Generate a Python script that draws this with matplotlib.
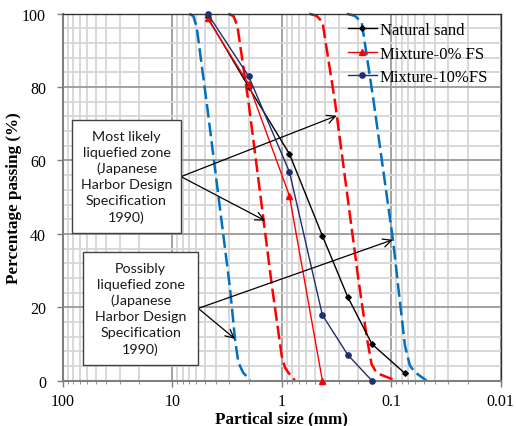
import matplotlib
matplotlib.use("Agg")
import matplotlib.pyplot as plt
from matplotlib.patches import Rectangle
from matplotlib.ticker import FixedLocator, FixedFormatter, MultipleLocator

# ---------------- data ----------------
sieve_sizes = [4.75, 2.0, 0.85, 0.425, 0.25, 0.15, 0.075]
natural_sand = [99, 80, 61.8, 39.5, 22.9, 10, 2]
mix0_sizes = [4.75, 2.0, 0.85, 0.425]
mix0 = [98.7, 80.8, 50.4, 0]
mix10_sizes = [4.75, 2.0, 0.85, 0.425, 0.25, 0.15]
mix10 = [100, 82.9, 56.9, 17.9, 7.1, 0]

# zone boundaries
possible_left_x = [6.98, 6.4, 5.97, 4.76, 2.97, 2.67, 2.49, 2.25, 2.02, 1.95]
possible_left_y = [100, 99.3, 96.3, 74, 25.4, 11.4, 5, 2.2, 0.7, 0]
likely_left_x = [3.07, 2.75, 2.54, 1.99, 1.23, 1.0, 0.933, 0.86, 0.793, 0.76]
likely_left_y = [100, 99.3, 96.7, 75, 26, 6.8, 3.6, 2.0, 1.1, 0]
likely_right_x = [0.560, 0.48, 0.424, 0.326, 0.199, 0.167, 0.151, 0.14, 0.128, 0.0904]
likely_right_y = [100, 99.4, 97.7, 76, 27.5, 11.8, 4.5, 2.8, 1.8, 0]
possible_right_x = [0.255, 0.215, 0.186, 0.1457, 0.0957, 0.0861, 0.0748, 0.0674, 0.0606, 0.0474]
possible_right_y = [100, 99.4, 97.7, 76.8, 37.7, 25.4, 9.5, 4.1, 2.3, 0]

x_ticks = [100, 10, 1, 0.1, 0.01]
x_tick_labels = ["100", "10", "1", "0.1", "0.01"]
y_ticks = [0, 20, 40, 60, 80, 100]

labels = ["Natural sand", "Mixture-0% FS", "Mixture-10%FS"]
box1_text = "Most likely\nliquefied zone\n(Japanese\nHarbor Design\nSpecification\n1990)"
box2_text = "Possibly\nliquefied zone\n(Japanese\nHarbor Design\nSpecification\n1990)"

# ---------------- figure ----------------
fig = plt.figure(figsize=(5.16, 4.27), dpi=100)
ax = fig.add_axes([0.1215, 0.1061, 0.8488, 0.8595])
ax.set_xscale("log")
ax.set_xlim(100, 0.01)
ax.set_ylim(0, 100)

serif = "Liberation Serif"

# grid
minor_x = [m * 10.0 ** e for e in range(-2, 2) for m in range(2, 10)]
ax.xaxis.set_major_locator(FixedLocator(x_ticks))
ax.xaxis.set_major_formatter(FixedFormatter(x_tick_labels))
ax.xaxis.set_minor_locator(FixedLocator(minor_x))
ax.yaxis.set_major_locator(FixedLocator(y_ticks))
ax.yaxis.set_minor_locator(MultipleLocator(4))
ax.grid(which="minor", color="#d6d6d6", lw=1.3, zorder=0)
ax.grid(which="major", color="#9a9a9a", lw=1.3, zorder=0)
ax.set_axisbelow(True)

for s in ax.spines.values():
    s.set_color("#333333")
    s.set_linewidth(1.0)
for s in ["left", "bottom"]:
    ax.spines[s].set_color("#7f7f7f")
    ax.spines[s].set_linewidth(1.5)

ax.tick_params(axis="both", which="major", direction="out", length=4, width=1,
               color="#7f7f7f", labelsize=11.5, pad=5)
ax.tick_params(axis="x", which="minor", direction="out", length=2.5, color="#7f7f7f")
ax.tick_params(axis="y", which="minor", length=0)
ax.tick_params(axis="y", which="major", pad=8)
for lab in ax.get_xticklabels() + ax.get_yticklabels():
    lab.set_fontfamily(serif)

# zone boundaries
dash = (0, (5.5, 2))
for xs, ys, c in [(possible_left_x, possible_left_y, "#0070C0"),
                  (possible_right_x, possible_right_y, "#0070C0"),
                  (likely_left_x, likely_left_y, "#FF0000"),
                  (likely_right_x, likely_right_y, "#FF0000")]:
    ax.plot(xs, ys, color=c, lw=1.8, ls=dash, zorder=2, clip_on=False)

# data series
l1, = ax.plot(sieve_sizes, natural_sand, color="black", lw=1.0, marker="D", ms=2.8,
              zorder=4, clip_on=False, label=labels[0])
l2, = ax.plot(mix0_sizes, mix0, color="#FF0000", lw=1.0, marker="^", ms=3.8,
              zorder=4, clip_on=False, label=labels[1])
l3, = ax.plot(mix10_sizes, mix10, color="#1F2F6E", lw=1.0, marker="o", ms=3.8,
              zorder=5, clip_on=False, label=labels[2])

leg = ax.legend(handles=[l1, l2, l3], loc="upper left", bbox_to_anchor=(0.636, 0.995),
                borderaxespad=0, frameon=False, handlelength=1.75, handletextpad=0.15,
                labelspacing=0.45, prop={"family": serif, "size": 12})

# boxes
box_font = "Lato"
for (x0, y0, x1, y1), txt in [((0.0212, 0.4025, 0.270, 0.7112), box1_text),
                              ((0.0463, 0.0428, 0.3096, 0.3515), box2_text)]:
    ax.add_patch(Rectangle((x0, y0), x1 - x0, y1 - y0, transform=ax.transAxes,
                           facecolor="white", edgecolor="#404040", lw=1.0, zorder=6))
    ax.text((x0 + x1) / 2, (y0 + y1) / 2, txt, transform=ax.transAxes, ha="center",
            va="center", fontsize=10.3, family=box_font, color="#1a1a1a",
            linespacing=1.38, zorder=7)

# arrows
arrow_kw = dict(arrowstyle="->,head_length=0.6,head_width=0.3", color="black", lw=0.9,
                shrinkA=0, shrinkB=0)
for start, end in [((8.31, 55.6), (0.315, 72.2)), ((8.31, 55.6), (1.42, 43.6)),
                   ((5.78, 19.7), (2.67, 11.4)), ((5.78, 19.7), (0.0969, 38.4))]:
    ax.annotate("", xy=end, xytext=start, arrowprops=arrow_kw, zorder=5)

ax.set_xlabel("Partical size (mm)", family=serif, fontsize=12.3, fontweight="bold")
ax.set_ylabel("Percentage passing (%)", family=serif, fontsize=12.3, fontweight="bold")
ax.xaxis.set_label_coords(0.5, -0.082)
ax.yaxis.set_label_coords(-0.093, 0.5)

fig.savefig("out.png", dpi=100)
